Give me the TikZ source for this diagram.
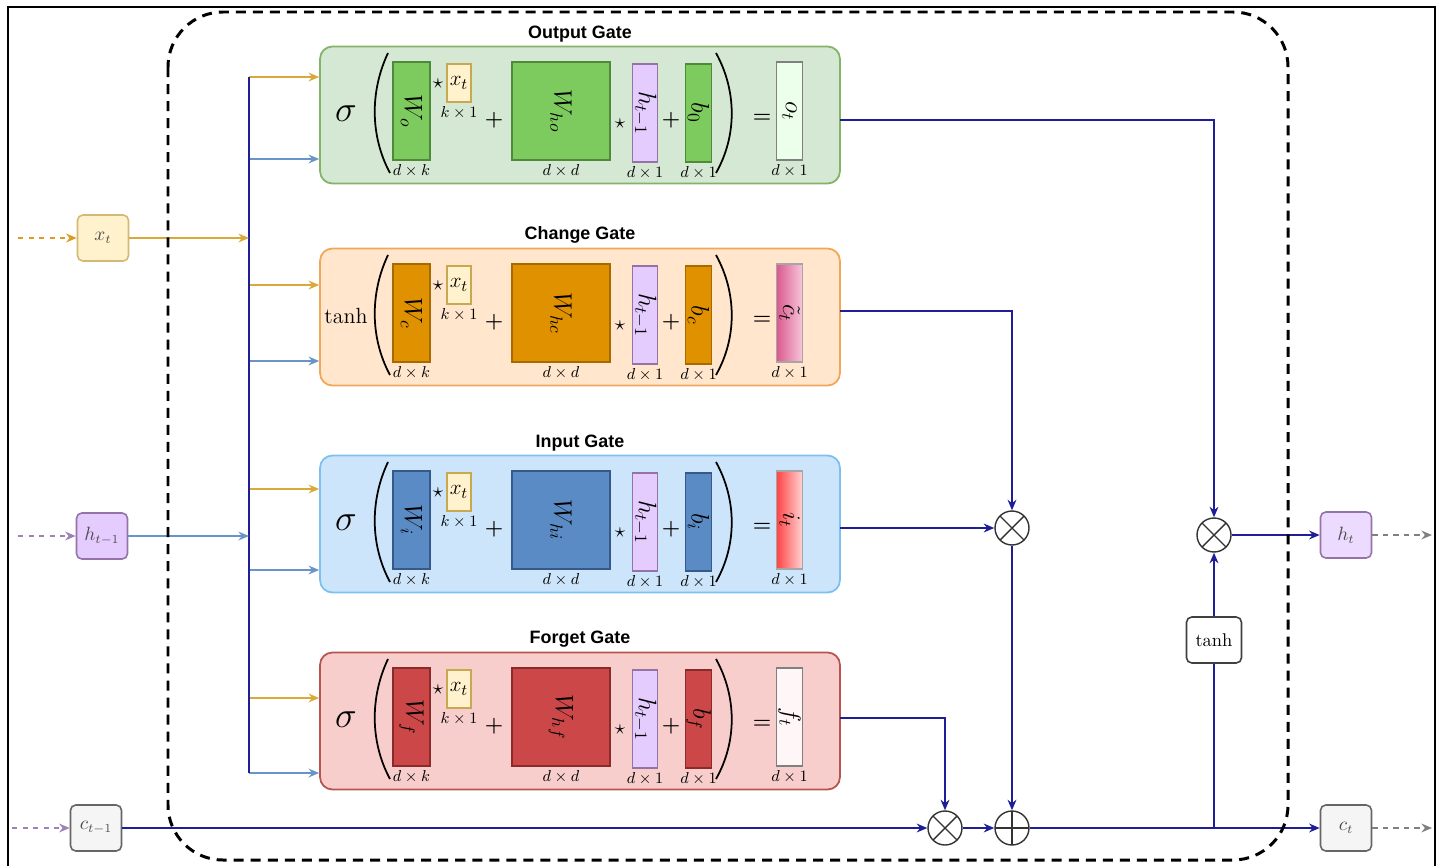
\documentclass[tikz,border=0pt]{standalone}
\usepackage{fontspec}
\newfontfamily\titlefont{Liberation Sans}
\usepackage{tikz}
\usetikzlibrary{arrows.meta,positioning,calc}

\definecolor{greenF}{HTML}{D5E8D4}
\definecolor{greenL}{HTML}{82B366}
\definecolor{greenM}{HTML}{7DCB5E}
\definecolor{greenD}{HTML}{4E8A3A}
\definecolor{orangeF}{HTML}{FFE6CC}
\definecolor{orangeL}{HTML}{F2A65A}
\definecolor{orangeM}{HTML}{E09100}
\definecolor{orangeD}{HTML}{A86A00}
\definecolor{blueF}{HTML}{CCE5FA}
\definecolor{blueL}{HTML}{7DC0F0}
\definecolor{blueM}{HTML}{5B8BC4}
\definecolor{blueD}{HTML}{34598A}
\definecolor{redF}{HTML}{F8CECC}
\definecolor{redL}{HTML}{B85450}
\definecolor{redM}{HTML}{CC4848}
\definecolor{redD}{HTML}{8A2A2A}
\definecolor{navy}{HTML}{1E1E96}
\definecolor{xline}{HTML}{D9A93A}
\definecolor{xdash}{HTML}{E09A20}
\definecolor{hline}{HTML}{6A93C8}
\definecolor{hdash}{HTML}{A080B8}
\definecolor{xbox}{HTML}{FFF2CC}
\definecolor{xboxD}{HTML}{C8A850}
\definecolor{hbox}{HTML}{E5CCFF}
\definecolor{hboxD}{HTML}{9673A6}
\definecolor{cbox}{HTML}{F5F5F5}
\definecolor{cboxD}{HTML}{666666}
\definecolor{cdark}{HTML}{DA5A8E}
\definecolor{clight}{HTML}{F7C6DA}
\definecolor{idark}{HTML}{FF4545}
\definecolor{ilight}{HTML}{FFD2D2}

\newcommand\fnsig{\fontsize{22}{22}\selectfont$\sigma$}
\newcommand\fntanh{\fontsize{12.5}{13}\selectfont$\tanh$}

\tikzset{
  gatebox/.style={rounded corners=7pt, line width=1pt, minimum width=10.4cm, minimum height=2.74cm, inner sep=0},
  gtitle/.style={font=\titlefont\bfseries\fontsize{10.2}{12}\selectfont, inner sep=1pt},
  mat/.style={line width=0.6pt, inner sep=0, minimum height=1.96cm, font=\fontsize{14}{15}\selectfont},
  wmat/.style={mat, minimum width=0.74cm},
  whmat/.style={mat, minimum width=1.96cm},
  vec/.style={mat, minimum width=0.51cm},
  xvec/.style={fill=xbox, draw=xboxD, line width=0.6pt, inner sep=0, minimum width=0.48cm, minimum height=0.76cm, font=\fontsize{13}{14}\selectfont},
  dimlbl/.style={font=\fontsize{9.5}{10}\selectfont, inner sep=0},
  op/.style={font=\fontsize{12}{12}\selectfont\boldmath, inner sep=0},
  smallstar/.style={font=\fontsize{12}{12}\selectfont, inner sep=0},
  paren/.style={line width=1pt},
  outog/.style={fill=white!92!green, draw=gray},
  outcg/.style={left color=cdark, right color=clight, draw=gray!70},
  outig/.style={left color=idark, right color=ilight, draw=gray!70},
  outfg/.style={fill=red!3, draw=gray},
  inbox/.style={rounded corners=3pt, line width=0.9pt, minimum width=1.02cm, minimum height=0.92cm, inner sep=0, font=\fontsize{10.5}{11}\selectfont, text=black!70},
  tip/.style={-{Stealth[length=6pt,width=5pt]}},
  xfeed/.style={draw=xline, line width=0.9pt, tip},
  hfeed/.style={draw=hline, line width=0.9pt, tip},
  flow/.style={draw=navy, line width=1.2pt},
  flowa/.style={flow, tip},
  dashin/.style={dashed, line width=1pt, tip},
  mulop/.style={circle, draw=black!80, line width=0.8pt, fill=white, minimum size=0.68cm, inner sep=0,
    path picture={\draw[black!80, line width=0.8pt]
      (path picture bounding box.north west) -- (path picture bounding box.south east)
      (path picture bounding box.north east) -- (path picture bounding box.south west);}},
  addop/.style={circle, draw=black!80, line width=0.8pt, fill=white, minimum size=0.68cm, inner sep=0,
    path picture={\draw[black!80, line width=0.8pt]
      (path picture bounding box.north) -- (path picture bounding box.south)
      (path picture bounding box.west) -- (path picture bounding box.east);}},
  cellborder/.style={line width=1.7pt, dash pattern=on 5.7pt off 4pt, rounded corners=1.1cm}
}

\begin{document}
\begin{tikzpicture}[x=0.02cm, y=-0.02cm]
    \useasboundingbox (0,0) rectangle (1441,866);

    % Frame
    \draw[line width=1.1pt] (8,866) -- (8,7) -- (1435,7) -- (1435,866);

    % Gates
    \foreach \g/\ty/\ttl/\fn/\s/\bsub/\col/\out/\ofill/\ya/\yb/\yo in {
        og/46/Output Gate/\fnsig/o/0/green/o_t/outog/31/113/74,
        cg/248/Change Gate/\fntanh/c/c/orange/\tilde{c}_t/outcg/37/113/63,
        ig/455/Input Gate/\fnsig/i/i/blue/i_t/outig/34/115/73,
        fg/652/Forget Gate/\fnsig/f/f/red/f_t/outfg/46/121/66}{
    \begin{scope}[shift={(0,\ty)}]
        \node[gatebox, fill=\col F, draw=\col L] (\g) at (580,69) {};
        \node[gtitle, above=1pt] (\g-t) at (\g.north) {\ttl};
        \node (\g-fn) at (346,68) {\fn};
        \draw[paren] (388,7) .. controls (370,45) and (370,90) .. (390,127);
        \node[wmat, fill=\col M, draw=\col D] (\g-W) at (411.5,65) {\rotatebox{-90}{$W_\s$}};
        \node[dimlbl, below=2pt of \g-W] (\g-dW) {$d\times k$};
        \node[smallstar] (\g-s1) at (438,38) {$\star$};
        \node[xvec] (\g-x) at (459,37) {$x_t$};
        \node[dimlbl, below=2pt of \g-x] (\g-dx) {$k\times 1$};
        \node[op] (\g-p1) at (494,74) {$+$};
        \node[whmat, fill=\col M, draw=\col D] (\g-Wh) at (561,65) {\rotatebox{-90}{$W_{h\s}$}};
        \node[dimlbl, below=2pt of \g-Wh] (\g-dWh) {$d\times d$};
        \node[smallstar] (\g-s2) at (620,78) {$\star$};
        \node[vec, fill=hbox, draw=hboxD] (\g-h) at (645,67) {\rotatebox{-90}{$h_{t-1}$}};
        \node[dimlbl, below=2pt of \g-h] (\g-dh) {$d\times 1$};
        \node[op] (\g-p2) at (671,74) {$+$};
        \node[vec, fill=\col M, draw=\col D] (\g-b) at (698.5,67) {\rotatebox{-90}{$b_\bsub$}};
        \node[dimlbl, below=2pt of \g-b] (\g-db) {$d\times 1$};
        \draw[paren] (716,7) .. controls (737,45) and (737,90) .. (716,127);
        \node[op] (\g-eq) at (762,72) {$=$};
        \node[vec, \ofill] (\g-out) at (789.5,65) {\rotatebox{-90}{$\out$}};
        \node[dimlbl, below=2pt of \g-out] (\g-dout) {$d\times 1$};
        % taps from the bus and the gate output
        \coordinate (\g-ya) at (249,\ya);
        \coordinate (\g-yb) at (249,\yb);
        \coordinate (\g-o) at (840,\yo);
        \draw[xfeed] (\g-ya) -- (\g-ya -| \g.west);
        \draw[hfeed] (\g-yb) -- (\g-yb -| \g.west);
    \end{scope}
    }

    % Inputs
    \node[inbox, fill=xbox, draw=xboxD!80] (xt) at (103,238) {$x_t$};
    \node[inbox, fill=hbox, draw=hboxD] (ht1) at (102,536) {$h_{t-1}$};
    \node[inbox, fill=cbox, draw=cboxD] (ct1) at (96,828) {$c_{t-1}$};
    \coordinate (xin) at (18,238);
    \coordinate (hin) at (18,536);
    \coordinate (cin) at (12,828);
    \draw[dashin, draw=xdash] (xin) -- (xt);
    \draw[dashin, draw=hdash] (hin) -- (ht1);
    \draw[dashin, draw=hdash] (cin) -- (ct1);

    % Bus
    \coordinate (xbus) at (249,238);
    \coordinate (hbus) at (249,536);
    \draw[flow] (og-ya) -- (fg-yb);
    \draw[xfeed] (xt) -- (xbus);
    \draw[hfeed] (ht1) -- (hbus);

    % Cell state and output
    \node[mulop] (mulf) at (945,828) {};
    \node[addop] (addc) at (1012,828) {};
    \node[mulop] (muli) at (1012,528) {};
    \node[mulop] (mulh) at (1214,535) {};
    \node[draw=black!75, line width=0.9pt, rounded corners=3pt, fill=white, minimum width=1.1cm, minimum height=0.92cm, inner sep=0, font=\fontsize{10.5}{11}\selectfont] (tanhn) at (1214,640) {$\tanh$};
    \node[inbox, fill=hbox!70!white, draw=hboxD] (ht) at (1346,535) {$h_t$};
    \node[inbox, fill=cbox, draw=cboxD] (ct) at (1346,828) {$c_t$};
    \coordinate (br) at (1214,828);
    \coordinate (hout) at (1432,535);
    \coordinate (cout) at (1432,828);

    \draw[flowa] (ct1) -- (mulf);
    \draw[flowa] (mulf) -- (addc);
    \draw[flowa] (addc) -- (ct);
    \draw[flowa] (fg-o) -| (mulf);
    \draw[flowa] (ig-o) -- (muli);
    \draw[flowa] (cg-o) -| (muli);
    \draw[flowa] (muli) -- (addc);
    \draw[flowa] (og-o) -| (mulh);
    \draw[flow] (br) -- (tanhn);
    \draw[flowa] (tanhn) -- (mulh);
    \draw[flowa] (mulh) -- (ht);
    \draw[dashin, draw=gray] (ht) -- (hout);
    \draw[dashin, draw=gray] (ct) -- (cout);

    % Cell border
    \draw[cellborder] (168,12) rectangle (1288,860);
\end{tikzpicture}
\end{document}
